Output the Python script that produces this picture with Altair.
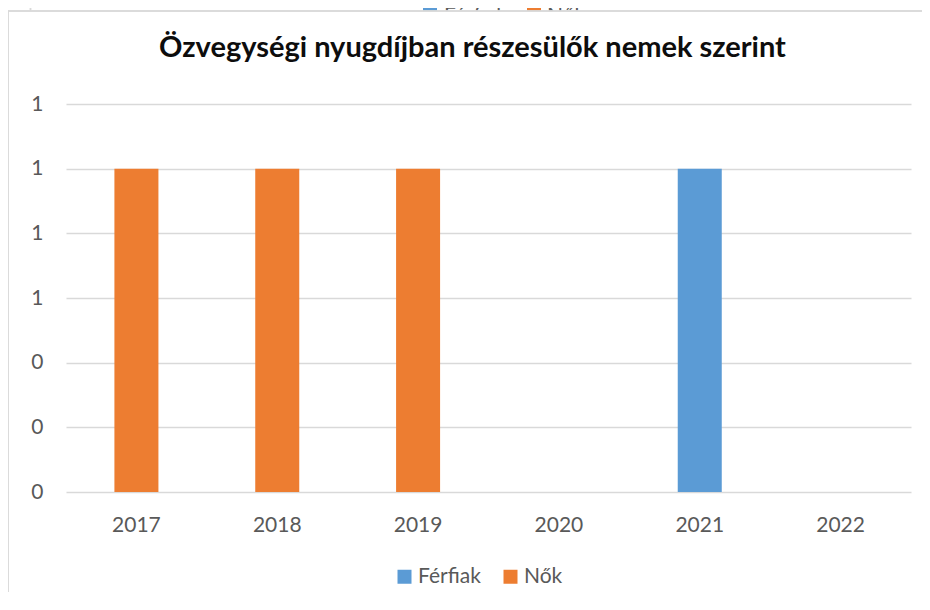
import altair as alt
import pandas as pd

# ---- data ----
years = ["2017", "2018", "2019", "2020", "2021", "2022"]
ferfiak = [0, 0, 0, 0, 1, 0]
nok = [1, 1, 1, 0, 0, 0]
series = ["Férfiak", "Nők"]
colors = ["#5b9bd5", "#ed7d31"]
y_ticks = [0, 0.2, 0.4, 0.6, 0.8, 1.0, 1.2]
title_text = "Özvegységi nyugdíjban részesülők nemek szerint"

rows = []
for i, yr in enumerate(years):
    rows.append({"Év": yr, "Nem": series[0], "Érték": ferfiak[i]})
    rows.append({"Év": yr, "Nem": series[1], "Érték": nok[i]})
df = pd.DataFrame(rows)

FONT = "Lato"
TXT = "#595959"
GRID = "#d9d9d9"

bars = alt.Chart(df).mark_bar().encode(
    x=alt.X("Év:N", sort=years, title=None,
            scale=alt.Scale(paddingInner=0.6875, paddingOuter=0.34375),
            axis=alt.Axis(labelAngle=0, domain=False, ticks=False,
                          labelPadding=22, labelFontSize=21, labelColor=TXT,
                          labelFont=FONT, grid=False)),
    y=alt.Y("Érték:Q", stack="zero", title=None,
            scale=alt.Scale(domain=[0, 1.2], nice=False),
            axis=alt.Axis(values=y_ticks, format=".0f", domain=False, ticks=False,
                          labelPadding=23, labelFontSize=21, labelColor=TXT,
                          labelFont=FONT, grid=True, gridColor=GRID, gridWidth=1.4)),
    color=alt.Color("Nem:N", sort=series,
                    scale=alt.Scale(domain=series, range=colors),
                    legend=alt.Legend(title=None, orient="none", direction="horizontal",
                                      legendX=328, legendY=462,
                                      symbolType="square", symbolSize=196,
                                      symbolStrokeWidth=0, labelFontSize=21,
                                      labelColor=TXT, labelFont=FONT,
                                      labelOffset=3, columnPadding=19)),
    order=alt.Order("Nem:N"),
)

# cut-off fragment of a neighbouring chart's legend at the very top
frag_df = pd.DataFrame({"Nem": series, "fx": [357, 461], "tx": [378, 481], "col": colors})
frag_sq = alt.Chart(frag_df).mark_rect().encode(
    x=alt.X("fx:Q", scale=None), x2="fx2:Q",
    y=alt.value(-97), y2=alt.value(-93),
    color=alt.Color("col:N", scale=None),
).transform_calculate(fx2="datum.fx + 14")
frag_txt = alt.Chart(frag_df).mark_text(
    align="left", baseline="top", font=FONT, fontSize=21, color=TXT
).encode(x=alt.X("tx:Q", scale=None), y=alt.value(-99), text="Nem:N")
cover = alt.Chart(frag_df).mark_rect(color="white").encode(
    x=alt.value(350), x2=alt.value(540), y=alt.value(-93), y2=alt.value(-70))

# chart frame (light grey border of the embedded chart object)
frame_v = alt.Chart(frag_df).mark_rule(color=GRID, strokeWidth=1.5).encode(
    x=alt.value(-58), y=alt.value(-93), y2=alt.value(500))
frame_h = alt.Chart(frag_df).mark_rule(color=GRID, strokeWidth=1.5).encode(
    x=alt.value(-58), x2=alt.value(870), y=alt.value(-93))
frame_stub = alt.Chart(frag_df).mark_rule(color=GRID, strokeWidth=1.5).encode(
    x=alt.value(-35.5), y=alt.value(-97), y2=alt.value(-93))

chart = alt.layer(frag_sq, frag_txt, cover, frame_v, frame_h, frame_stub, bars).properties(
    width=845, height=388,
    autosize=alt.AutoSizeParams(type="none"),
    padding={"left": 58, "top": 96, "right": 11, "bottom": 100},
    title=alt.TitleParams(title_text, font=FONT, fontSize=29, fontWeight="bold",
                          color="#0d0d0d", anchor="middle", dx=-16, dy=111,
                          baseline="alphabetic", offset=30),
).configure(background="white").configure_view(stroke="transparent", strokeWidth=0)

chart.save("out.html", embed_options={"renderer": "svg", "actions": False})
